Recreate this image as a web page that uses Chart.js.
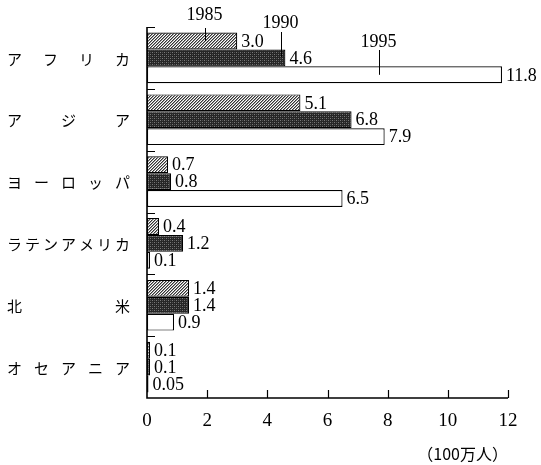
<!DOCTYPE html>
<html>
<head>
<meta charset="utf-8">
<script src="https://cdn.jsdelivr.net/npm/chart.js@4.4.1/dist/chart.umd.min.js"></script>
<style>
html,body{margin:0;padding:0;background:#fff;}
#wrap{width:541px;height:465px;position:relative;}
</style>
</head>
<body>
<div id="wrap"><canvas id="c" width="541" height="465"></canvas></div>
<script>
const categories = ['アフリカ', 'アジア', 'ヨーロッパ', 'ラテンアメリカ', '北米', 'オセアニア'];
const years = ['1985', '1990', '1995'];
const values1985 = [3.0, 5.1, 0.7, 0.4, 1.4, 0.1];
const values1990 = [4.6, 6.8, 0.8, 1.2, 1.4, 0.1];
const values1995 = [11.8, 7.9, 6.5, 0.1, 0.9, 0.05];
const xTicks = [0, 2, 4, 6, 8, 10, 12];
const unitLabel = '（100万人）';
// where the year callouts point (data value along x)
const calloutValues = [1.93, 4.45, 7.7];

function hatchPattern() {
  const c = document.createElement('canvas');
  c.width = 3; c.height = 3;
  const g = c.getContext('2d');
  g.fillStyle = '#fff'; g.fillRect(0, 0, 3, 3);
  g.fillStyle = '#333';
  g.fillRect(2, 0, 1, 1); g.fillRect(1, 1, 1, 1); g.fillRect(0, 2, 1, 1);
  g.fillStyle = '#999';
  g.fillRect(0, 0, 1, 1); g.fillRect(2, 1, 1, 1); g.fillRect(1, 2, 1, 1);
  return g.createPattern(c, 'repeat');
}
function darkPattern() {
  const c = document.createElement('canvas');
  c.width = 4; c.height = 4;
  const g = c.getContext('2d');
  g.fillStyle = '#262626'; g.fillRect(0, 0, 4, 4);
  g.fillStyle = '#7a7a7a';
  g.fillRect(0, 0, 1, 1); g.fillRect(2, 2, 1, 1);
  g.fillStyle = '#505050';
  g.fillRect(2, 0, 1, 1); g.fillRect(0, 2, 1, 1);
  return g.createPattern(c, 'repeat');
}

const fmt = v => v < 0.1 ? v.toFixed(2) : v.toFixed(1);

const drawPlugin = {
  id: 'custom',
  afterDatasetsDraw(chart) {
    const ctx = chart.ctx;
    const xs = chart.scales.x, ys = chart.scales.y;
    const a = chart.chartArea;
    ctx.save();
    ctx.font = '18px "Liberation Serif"';
    ctx.fillStyle = '#000';
    ctx.textBaseline = 'middle';
    ctx.textAlign = 'left';
    chart.data.datasets.forEach((ds, di) => {
      const meta = chart.getDatasetMeta(di);
      meta.data.forEach((el, i) => {
        ctx.fillText(fmt(ds.data[i]), el.x + 4, el.y + 1);
      });
    });
    ctx.strokeStyle = '#000';
    ctx.lineWidth = 1.6;
    ctx.beginPath();
    ctx.moveTo(a.left, a.top);
    ctx.lineTo(a.left, a.bottom);
    ctx.lineTo(xs.getPixelForValue(12), a.bottom);
    ctx.stroke();
    ctx.lineWidth = 1.2;
    ctx.beginPath();
    xTicks.slice(1).forEach(t => {
      const x = Math.round(xs.getPixelForValue(t)) + 0.5;
      ctx.moveTo(x, a.bottom);
      ctx.lineTo(x, a.bottom - 8);
    });
    const band = (a.bottom - a.top) / categories.length;
    for (let i = 0; i < categories.length; i++) {
      const y = Math.round(a.top + i * band) + 0.5;
      ctx.moveTo(a.left, y);
      ctx.lineTo(a.left + 8, y);
    }
    ctx.stroke();
    ctx.font = '15px "Noto Sans CJK JP"';
    ctx.textAlign = 'left';
    const L = 7, R = 130;
    categories.forEach((cat, i) => {
      const y = ys.getPixelForValue(i) + 1;
      const chars = Array.from(cat);
      const widths = chars.map(ch => ctx.measureText(ch).width);
      const total = widths.reduce((s, w) => s + w, 0);
      const gap = chars.length > 1 ? (R - L - total) / (chars.length - 1) : 0;
      let x = L;
      chars.forEach((ch, k) => {
        ctx.fillText(ch, x, y);
        x += widths[k] + gap;
      });
    });
    ctx.font = '18px "Liberation Serif"';
    ctx.textAlign = 'center';
    ctx.textBaseline = 'middle';
    ctx.lineWidth = 1;
    const textY = [a.top - 12, a.top - 4, a.top + 15];
    const lineTop = [a.top + 1, a.top + 5, a.top + 23];
    const lineBottomOffset = [0, -1, 0];
    years.forEach((yr, di) => {
      const el = chart.getDatasetMeta(di).data[0];
      const x = Math.round(xs.getPixelForValue(calloutValues[di])) + 0.5;
      ctx.fillText(yr, x - 1, textY[di]);
      ctx.beginPath();
      ctx.moveTo(x, lineTop[di]);
      ctx.lineTo(x, el.y + lineBottomOffset[di]);
      ctx.stroke();
    });
    ctx.restore();
  }
};

new Chart(document.getElementById('c'), {
  type: 'bar',
  data: {
    labels: categories,
    datasets: [
      { label: years[0], data: values1985, backgroundColor: hatchPattern(), borderColor: '#000', borderWidth: 1.2, borderSkipped: false },
      { label: years[1], data: values1990, backgroundColor: darkPattern(), borderColor: '#000', borderWidth: 1.2, borderSkipped: false },
      { label: years[2], data: values1995, backgroundColor: '#fff', borderColor: '#000', borderWidth: 1.2, borderSkipped: false }
    ]
  },
  options: {
    indexAxis: 'y',
    responsive: false,
    animation: false,
    layout: { padding: { left: 147, right: 33, top: 27, bottom: 1 } },
    plugins: { legend: { display: false }, tooltip: { enabled: false } },
    datasets: { bar: { categoryPercentage: 0.82, barPercentage: 1.0 } },
    scales: {
      x: {
        min: 0, max: 12,
        afterBuildTicks: s => { s.ticks = xTicks.map(v => ({ value: v })); },
        ticks: { color: '#000', font: { family: 'Liberation Serif', size: 19 }, padding: 12, maxRotation: 0 },
        grid: { display: false, drawTicks: false, tickLength: 0 },
        border: { display: false },
        title: { display: true, text: unitLabel, align: 'end', color: '#000', font: { family: 'Noto Sans CJK JP', size: 16 }, padding: { top: 0, bottom: 0 } }
      },
      y: {
        display: false,
        offset: true
      }
    }
  },
  plugins: [drawPlugin]
});
</script>
</body>
</html>
